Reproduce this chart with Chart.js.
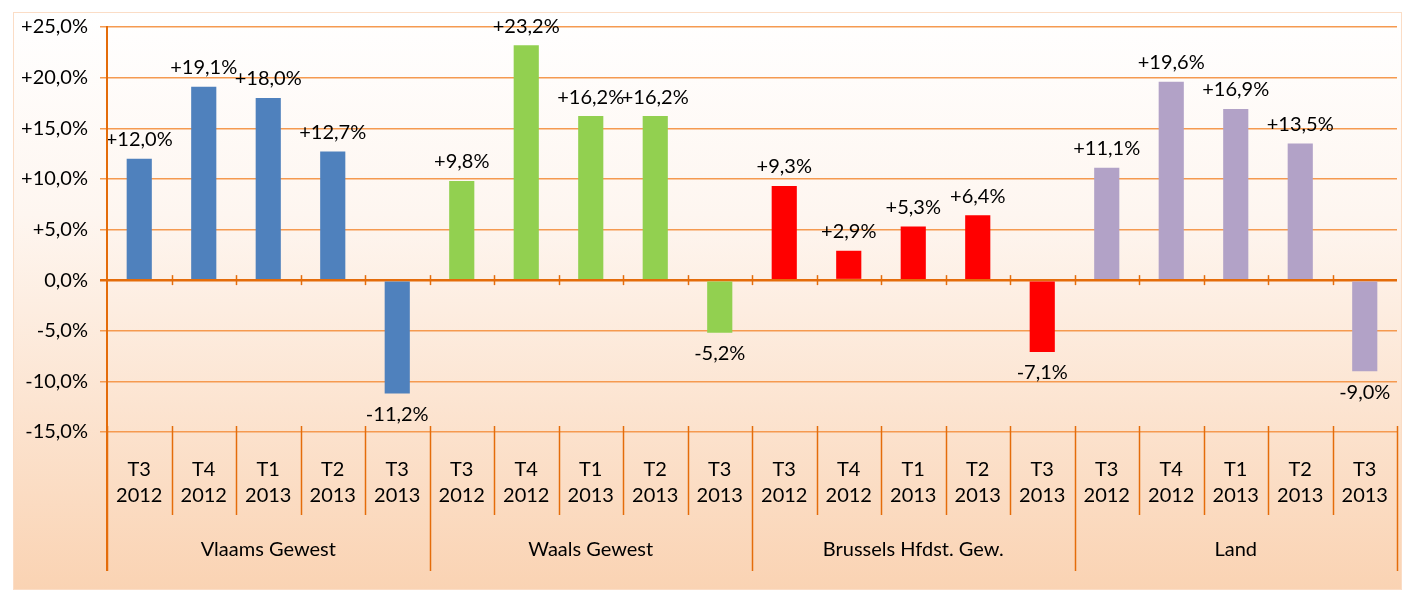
<!DOCTYPE html>
<html><head><meta charset="utf-8">
<script src="https://cdn.jsdelivr.net/npm/chart.js@4"></script>
<style>html,body{margin:0;padding:0;background:#fff}#wrap{width:1410px;height:592px}</style>
</head><body><div id="wrap"><canvas id="c" width="1410" height="592"></canvas></div>
<script>
const groups = ['Vlaams Gewest','Waals Gewest','Brussels Hfdst. Gew.','Land'];
const quarters = [['T3','2012'],['T4','2012'],['T1','2013'],['T2','2013'],['T3','2013']];
const vlaams = [12.0,19.1,18.0,12.7,-11.2];
const waals = [9.8,23.2,16.2,16.2,-5.2];
const brussels = [9.3,2.9,5.3,6.4,-7.1];
const land = [11.1,19.6,16.9,13.5,-9.0];
const groupColors = ['#4F81BD','#92D050','#FF0000','#B2A2C7'];
const yMin = -15, yMax = 25, yStep = 5;

const series = [vlaams, waals, brussels, land];
const labels = [], values = [], colors = [];
series.forEach((s, gi) => s.forEach((v, qi) => {
  labels.push(quarters[qi]); values.push(v); colors.push(groupColors[gi]);
}));

const FONT = 'Lato, "Liberation Sans", sans-serif';
const GRID = '#F59A50', AXIS = '#E46C0A';

function fmt(v){
  const s = Math.abs(v).toFixed(1).replace('.', ',') + '%';
  return (v > 0 ? '+' : v < 0 ? '-' : '') + s;
}

const deco = {
  id: 'deco',
  beforeDraw(chart){
    const ctx = chart.ctx;
    ctx.save();
    const g = ctx.createLinearGradient(0, 12, 0, 590);
    g.addColorStop(0, '#FFFFFF');
    g.addColorStop(0.35, '#FEF6F0');
    g.addColorStop(1, '#FAD3B3');
    ctx.fillStyle = g;
    ctx.fillRect(13, 12, 1389, 578);
    ctx.strokeStyle = '#FBDDC6';
    ctx.lineWidth = 1;
    ctx.strokeRect(13.5, 12.5, 1388, 577);
    ctx.restore();
  },
  afterDatasetsDraw(chart){
    const ctx = chart.ctx;
    const meta = chart.getDatasetMeta(0);
    ctx.save();
    ctx.font = '20px ' + FONT;
    ctx.fillStyle = '#000';
    ctx.textAlign = 'center';
    ctx.textBaseline = 'middle';
    meta.data.forEach((el, i) => {
      const v = values[i];
      const y = v >= 0 ? el.y - 19 : el.y + 21;
      ctx.fillText(fmt(v), el.x, y);
    });
    ctx.restore();
  },
  afterDraw(chart){
    const ctx = chart.ctx, xs = chart.scales.x, ys = chart.scales.y, ca = chart.chartArea;
    const step = xs.getPixelForValue(1) - xs.getPixelForValue(0);
    const y0 = ys.getPixelForValue(0);
    ctx.save();
    ctx.strokeStyle = AXIS;
    ctx.lineWidth = 1.5;
    for (let i = 0; i <= labels.length; i++){
      const x = Math.round(xs.getPixelForValue(0) - step/2 + i*step) + 0.5;
      const isGroup = i % quarters.length === 0;
      ctx.beginPath();
      ctx.moveTo(x, ca.bottom - 6);
      ctx.lineTo(x, isGroup ? 571 : 515);
      ctx.stroke();
      if (i > 0 && i < labels.length){
        ctx.beginPath();
        ctx.moveTo(x, y0 - 5);
        ctx.lineTo(x, y0 + 5);
        ctx.stroke();
      }
    }
    ctx.lineWidth = 2;
    ctx.beginPath();
    ctx.moveTo(ca.left, ca.top);
    ctx.lineTo(ca.left, 571);
    ctx.stroke();
    ctx.font = '20px ' + FONT;
    ctx.fillStyle = '#000';
    ctx.textAlign = 'center';
    ctx.textBaseline = 'middle';
    groups.forEach((gname, gi) => {
      const a = xs.getPixelForValue(gi*quarters.length);
      const b = xs.getPixelForValue(gi*quarters.length + quarters.length - 1);
      ctx.fillText(gname, (a+b)/2, 550);
    });
    ctx.restore();
  }
};

new Chart(document.getElementById('c'), {
  type: 'bar',
  data: {
    labels: labels,
    datasets: [{
      data: values,
      backgroundColor: colors,
      borderColor: colors,
      borderWidth: 0,
      barPercentage: 0.39,
      categoryPercentage: 1.0
    }]
  },
  options: {
    responsive: false,
    animation: false,
    devicePixelRatio: 1,
    layout: { padding: { left: 0, top: 27, right: 13, bottom: 0 } },
    plugins: { legend: { display: false }, tooltip: { enabled: false } },
    scales: {
      x: {
        afterFit(s){ s.height = 160; },
        grid: { display: false },
        border: { display: false },
        ticks: {
          color: '#000',
          font: { family: FONT, size: 20, lineHeight: 1.3 },
          padding: 17,
          maxRotation: 0,
          autoSkip: false
        }
      },
      y: {
        min: yMin, max: yMax,
        afterFit(s){ s.width = 107; },
        grid: {
          color: ctx => ctx.tick && ctx.tick.value === 0 ? AXIS : GRID,
          lineWidth: ctx => ctx.tick && ctx.tick.value === 0 ? 2.5 : 1.5,
          tickLength: 7
        },
        border: { color: AXIS, width: 2 },
        ticks: {
          stepSize: yStep,
          color: '#000',
          font: { family: FONT, size: 20 },
          padding: 12,
          callback: v => fmt(v)
        }
      }
    }
  },
  plugins: [deco]
});
</script>
</body></html>
